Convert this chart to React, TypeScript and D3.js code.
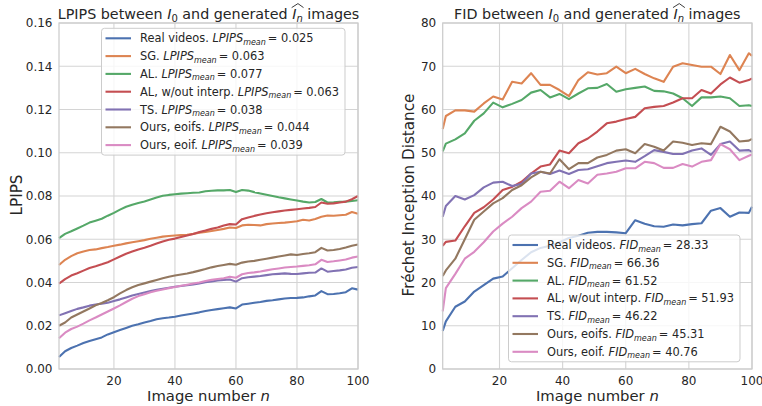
import React, { useRef, useEffect } from 'react'
import * as d3 from 'd3'

// seaborn "deep" palette
const colors = ['#4c72b0', '#dd8452', '#55a868', '#c44e52', '#8172b3', '#937860', '#da8bc3']
const methodNames = ['Real videos.', 'SG.', 'AL.', 'AL, w/out interp.', 'TS.', 'Ours, eoifs.', 'Ours, eoif.']

// LPIPS, read every second image
const lpipsN = [2, 4, 6, 8, 10, 12, 14, 16, 18, 20, 22, 24, 26, 28, 30, 32, 34, 36, 38, 40, 42, 44, 46, 48, 50,
  52, 54, 56, 58, 60, 62, 64, 66, 68, 70, 72, 74, 76, 78, 80, 82, 84, 86, 88, 90, 92, 94, 96, 98, 100]
const lpipsReal = [0.0055, 0.0082, 0.0097, 0.0108, 0.0120, 0.0130, 0.0138, 0.0146, 0.0160, 0.0170,
  0.0180, 0.0190, 0.0200, 0.0207, 0.0215, 0.0222, 0.0230, 0.0235, 0.0238, 0.0242,
  0.0247, 0.0252, 0.0257, 0.0262, 0.0268, 0.0273, 0.0277, 0.0281, 0.0285, 0.0280,
  0.0298, 0.0302, 0.0306, 0.0310, 0.0315, 0.0318, 0.0322, 0.0326, 0.0328, 0.0329,
  0.0331, 0.0336, 0.0340, 0.0360, 0.0346, 0.0347, 0.0350, 0.0355, 0.0373, 0.0367]
const lpipsSG = [0.0481, 0.0505, 0.0522, 0.0535, 0.0543, 0.0550, 0.0553, 0.0559, 0.0564, 0.0570,
  0.0575, 0.0581, 0.0586, 0.0591, 0.0596, 0.0602, 0.0607, 0.0612, 0.0615, 0.0617,
  0.0619, 0.0621, 0.0625, 0.0630, 0.0634, 0.0638, 0.0643, 0.0648, 0.0654, 0.0652,
  0.0664, 0.0667, 0.0666, 0.0664, 0.0670, 0.0673, 0.0675, 0.0677, 0.0680, 0.0683,
  0.0690, 0.0687, 0.0694, 0.0704, 0.0710, 0.0709, 0.0711, 0.0713, 0.0726, 0.0718]
const lpipsAL = [0.0605, 0.0625, 0.0637, 0.0650, 0.0663, 0.0677, 0.0686, 0.0695, 0.0709, 0.0722,
  0.0737, 0.0750, 0.0760, 0.0768, 0.0775, 0.0784, 0.0793, 0.0801, 0.0805, 0.0808,
  0.0811, 0.0813, 0.0815, 0.0816, 0.0822, 0.0824, 0.0826, 0.0826, 0.0828, 0.0818,
  0.0828, 0.0825, 0.0818, 0.0812, 0.0806, 0.0800, 0.0794, 0.0789, 0.0784, 0.0779,
  0.0774, 0.0770, 0.0772, 0.0786, 0.0770, 0.0771, 0.0773, 0.0774, 0.0777, 0.0780]
const lpipsALNoInterp = [0.0395, 0.0416, 0.0432, 0.0443, 0.0455, 0.0467, 0.0475, 0.0484, 0.0494, 0.0507,
  0.0520, 0.0533, 0.0543, 0.0553, 0.0561, 0.0570, 0.0580, 0.0590, 0.0598, 0.0603,
  0.0610, 0.0617, 0.0624, 0.0633, 0.0640, 0.0648, 0.0654, 0.0664, 0.0670, 0.0668,
  0.0693, 0.0701, 0.0708, 0.0714, 0.0720, 0.0725, 0.0729, 0.0733, 0.0736, 0.0739,
  0.0742, 0.0745, 0.0749, 0.0770, 0.0764, 0.0766, 0.0770, 0.0774, 0.0785, 0.0800]
const lpipsTS = [0.0248, 0.0258, 0.0268, 0.0278, 0.0285, 0.0293, 0.0298, 0.0302, 0.0306, 0.0314,
  0.0322, 0.0331, 0.0340, 0.0347, 0.0354, 0.0360, 0.0366, 0.0371, 0.0376, 0.0380,
  0.0384, 0.0387, 0.0391, 0.0396, 0.0401, 0.0405, 0.0409, 0.0412, 0.0414, 0.0404,
  0.0420, 0.0424, 0.0427, 0.0430, 0.0434, 0.0438, 0.0440, 0.0442, 0.0440, 0.0439,
  0.0442, 0.0445, 0.0446, 0.0465, 0.0450, 0.0453, 0.0456, 0.0460, 0.0468, 0.0472]
const lpipsEoifs = [0.0200, 0.0215, 0.0238, 0.0252, 0.0266, 0.0280, 0.0295, 0.0305, 0.0318, 0.0332,
  0.0350, 0.0365, 0.0378, 0.0388, 0.0396, 0.0404, 0.0412, 0.0420, 0.0427, 0.0432,
  0.0437, 0.0442, 0.0448, 0.0455, 0.0462, 0.0470, 0.0476, 0.0481, 0.0486, 0.0482,
  0.0492, 0.0497, 0.0500, 0.0505, 0.0510, 0.0515, 0.0520, 0.0525, 0.0530, 0.0527,
  0.0532, 0.0535, 0.0540, 0.0560, 0.0548, 0.0550, 0.0555, 0.0562, 0.0570, 0.0576]
const lpipsEoif = [0.0142, 0.0168, 0.0185, 0.0196, 0.0210, 0.0225, 0.0238, 0.0252, 0.0266, 0.0280,
  0.0294, 0.0310, 0.0325, 0.0337, 0.0346, 0.0355, 0.0362, 0.0368, 0.0374, 0.0379,
  0.0385, 0.0390, 0.0395, 0.0400, 0.0407, 0.0412, 0.0416, 0.0420, 0.0427, 0.0422,
  0.0438, 0.0444, 0.0447, 0.0451, 0.0456, 0.0461, 0.0465, 0.0469, 0.0472, 0.0474,
  0.0477, 0.0480, 0.0484, 0.0505, 0.0495, 0.0498, 0.0502, 0.0506, 0.0515, 0.0520]
const lpipsMeans = ['0.025', '0.063', '0.077', '0.063', '0.038', '0.044', '0.039']
const lpipsTicks = [0, 0.02, 0.04, 0.06, 0.08, 0.1, 0.12, 0.14, 0.16]

// FID, computed every third image
const fidN = [2, 3, 6, 9, 12, 15, 18, 21, 24, 27, 30, 33, 36, 39, 42, 45, 48, 51, 54, 57, 60, 63, 66, 69, 72,
  75, 78, 81, 84, 87, 90, 93, 96, 99, 100]
const fidReal = [8.8, 11.0, 14.4, 15.6, 17.9, 19.4, 20.9, 21.4, 23.3, 25.2, 27.0, 28.0, 28.5, 29.3, 30.3,
  30.8, 31.5, 31.7, 31.7, 31.6, 31.4, 34.4, 33.6, 33.0, 32.9, 33.4, 33.2, 33.5, 33.7, 36.6, 37.2, 35.2,
  36.2, 36.1, 37.5]
const fidSG = [55.5, 58.5, 59.8, 59.8, 59.5, 61.4, 63.0, 62.3, 66.4, 66.0, 68.4, 65.7, 65.7, 64.5, 63.1,
  66.8, 68.6, 68.1, 68.4, 69.9, 68.4, 69.4, 68.2, 67.2, 66.4, 69.9, 70.7, 70.3, 69.9, 69.9, 68.2, 72.6,
  69.1, 73.0, 72.4]
const fidAL = [50.3, 52.1, 53.1, 54.5, 57.4, 59.1, 61.6, 60.5, 61.3, 62.2, 63.9, 64.5, 62.8, 63.6, 62.4,
  63.7, 64.9, 65.0, 65.9, 64.1, 64.7, 65.0, 65.3, 64.3, 64.2, 63.7, 62.6, 60.8, 62.8, 62.8, 63.0, 62.6,
  60.8, 61.0, 60.8]
const fidALNoInterp = [28.5, 29.4, 29.7, 33.0, 36.1, 37.4, 39.2, 41.4, 42.1, 43.3, 45.2, 46.8, 47.3, 50.5,
  49.9, 52.2, 53.3, 54.9, 56.8, 57.2, 57.8, 58.3, 60.3, 60.6, 60.8, 61.6, 62.6, 62.6, 64.5, 63.7, 65.8,
  67.4, 66.2, 66.8, 67.2]
const fidTS = [35.2, 37.7, 40.0, 39.2, 40.2, 42.0, 43.1, 43.3, 42.3, 42.8, 45.2, 45.6, 45.1, 45.9, 45.1,
  46.0, 46.2, 46.9, 47.6, 47.9, 48.2, 47.9, 49.2, 50.6, 50.2, 49.7, 49.7, 50.5, 51.0, 49.5, 52.0, 52.6,
  50.5, 50.6, 50.2]
const fidEoifs = [21.5, 22.8, 25.5, 30.0, 34.5, 36.4, 38.3, 39.5, 41.4, 42.5, 44.3, 45.6, 45.2, 48.5, 46.2,
  47.6, 47.6, 48.9, 49.5, 50.5, 50.8, 49.9, 52.0, 51.4, 50.5, 52.6, 52.3, 51.8, 52.2, 52.0, 56.0, 54.9,
  52.6, 52.8, 53.2]
const fidEoif = [13.3, 18.7, 22.0, 25.5, 27.1, 29.3, 31.8, 33.6, 35.2, 37.2, 38.7, 41.0, 41.2, 43.3, 41.8,
  43.7, 42.9, 44.9, 45.2, 45.6, 46.4, 46.4, 47.9, 47.6, 46.5, 46.5, 47.4, 46.8, 47.9, 48.3, 52.0, 50.8,
  48.3, 49.3, 49.6]
const fidMeans = ['28.33', '66.36', '61.52', '51.93', '46.22', '45.31', '40.76']
const fidTicks = [0, 10, 20, 30, 40, 50, 60, 70, 80]

const xTicks = [20, 40, 60, 80, 100]

const ink = '#262626'
const gridColor = '#d4d4d4'
const spineColor = '#cccccc'

function drawPanel(svg, cfg) {
  const x = d3.scaleLinear().domain([2, 100]).range([cfg.left, cfg.right])
  const y = d3.scaleLinear().domain(cfg.yDomain).range([369, 23])
  const g = svg.append('g')

  g.selectAll('.gy').data(cfg.yTicks).enter().append('line')
    .attr('x1', cfg.left).attr('x2', cfg.right)
    .attr('y1', d => y(d)).attr('y2', d => y(d))
    .attr('stroke', gridColor).attr('stroke-width', 1.1)
  g.selectAll('.gx').data(xTicks).enter().append('line')
    .attr('x1', d => x(d)).attr('x2', d => x(d))
    .attr('y1', y.range()[0]).attr('y2', y.range()[1])
    .attr('stroke', gridColor).attr('stroke-width', 1.1)

  const line = d3.line().x((d, i) => x(cfg.n[i])).y(d => y(d))
  cfg.series.forEach((s, i) => {
    g.append('path').datum(s).attr('d', line)
      .attr('fill', 'none').attr('stroke', colors[i]).attr('stroke-width', 2.1)
      .attr('stroke-linejoin', 'round')
  })

  g.append('rect').attr('x', cfg.left).attr('y', 23)
    .attr('width', cfg.right - cfg.left).attr('height', 369 - 23)
    .attr('fill', 'none').attr('stroke', spineColor).attr('stroke-width', 1.25)

  // tick labels
  g.selectAll('.ty').data(cfg.yTicks).enter().append('text')
    .attr('x', cfg.left - 6.5).attr('y', d => y(d) + 4.3)
    .attr('text-anchor', 'end').attr('font-size', 12).attr('fill', ink)
    .text(cfg.yFormat)
  g.selectAll('.tx').data(xTicks).enter().append('text')
    .attr('x', d => x(d)).attr('y', 385)
    .attr('text-anchor', 'middle').attr('font-size', 12).attr('fill', ink)
    .text(d => d)

  // axis labels
  const xl = g.append('text').attr('x', (cfg.left + cfg.right) / 2).attr('y', 400.5)
    .attr('text-anchor', 'middle').attr('font-size', 14.8).attr('fill', ink)
  xl.append('tspan').text('Image number ')
  xl.append('tspan').attr('font-style', 'italic').text('n')
  g.append('text').attr('transform', `translate(${cfg.ylabelX},195) rotate(-90)`)
    .attr('text-anchor', 'middle').attr('font-size', 15.2).attr('fill', ink)
    .text(cfg.ylabel)

  // title with math
  const tt = g.append('text').attr('x', (cfg.left + cfg.right) / 2).attr('y', 19.3)
    .attr('text-anchor', 'middle').attr('font-size', 14.3).attr('fill', ink)
  tt.append('tspan').text(cfg.metric + ' between ')
  tt.append('tspan').attr('font-style', 'italic').text('I')
  tt.append('tspan').attr('font-size', 10).attr('dy', 2.6).text('0')
  tt.append('tspan').attr('dy', -2.6).text(' and generated ')
  tt.append('tspan').attr('font-style', 'italic').text('I')
  tt.append('tspan').attr('font-size', 10).attr('font-style', 'italic').attr('dy', 2.6).text('n')
  tt.append('tspan').attr('dy', -2.6).text(' images')
  const node = tt.node()
  const idx = node.textContent.lastIndexOf('I')
  const s = node.getStartPositionOfChar(idx)
  const e = node.getEndPositionOfChar(idx + 1)
  g.append('path')
    .attr('d', `M${s.x - 0.5},7.6 L${(s.x + e.x) / 2 + 0.5},3.6 L${e.x + 0.8},7.6`)
    .attr('fill', 'none').attr('stroke', ink).attr('stroke-width', 0.9)

  // legend
  const lg = g.append('g')
  const rowH = 17.8
  const box = lg.append('rect').attr('x', cfg.legendX).attr('y', cfg.legendY)
    .attr('height', 20 + rowH * 6).attr('rx', 3)
    .attr('fill', 'white').attr('fill-opacity', 0.8)
    .attr('stroke', spineColor).attr('stroke-width', 1)
  let maxW = 0
  methodNames.forEach((name, i) => {
    const ry = cfg.legendY + 10 + i * rowH
    lg.append('line').attr('x1', cfg.legendX + 4).attr('x2', cfg.legendX + 29.5)
      .attr('y1', ry).attr('y2', ry).attr('stroke', colors[i]).attr('stroke-width', 2.1)
    const t = lg.append('text').attr('x', cfg.legendX + 38.5).attr('y', ry + 4)
      .attr('font-size', 11.4).attr('fill', ink)
    t.append('tspan').text(name + ' ')
    t.append('tspan').attr('font-style', 'italic').text(cfg.metric)
    t.append('tspan').attr('font-style', 'italic').attr('font-size', 8).attr('dy', 2.5).text('mean')
    t.append('tspan').attr('dy', -2.5).attr('dx', 2).text('= ' + cfg.means[i])
    maxW = Math.max(maxW, t.node().getComputedTextLength() + 2)
  })
  box.attr('width', 38.5 + maxW + 6)
}

export default function App() {
  const ref = useRef(null)

  useEffect(() => {
    const svg = d3.select(ref.current)
    svg.selectAll('*').remove()

    drawPanel(svg, {
      left: 59, right: 358, yDomain: [0, 0.16], yTicks: lpipsTicks,
      yFormat: d3.format('.2f'), n: lpipsN,
      series: [lpipsReal, lpipsSG, lpipsAL, lpipsALNoInterp, lpipsTS, lpipsEoifs, lpipsEoif],
      metric: 'LPIPS', means: lpipsMeans, ylabel: 'LPIPS', ylabelX: 21.5,
      legendX: 101.5, legendY: 28.3
    })
    drawPanel(svg, {
      left: 442.7, right: 752, yDomain: [0, 80], yTicks: fidTicks,
      yFormat: d3.format('d'), n: fidN,
      series: [fidReal, fidSG, fidAL, fidALNoInterp, fidTS, fidEoifs, fidEoif],
      metric: 'FID', means: fidMeans, ylabel: 'Fréchet Inception Distance', ylabelX: 414,
      legendX: 508.5, legendY: 235
    })
  }, [])

  return (
    <svg ref={ref} width={762} height={406}
      style={{ position: 'absolute', left: 0, top: 0, background: 'white', fontFamily: 'DejaVu Sans' }} />
  )
}
